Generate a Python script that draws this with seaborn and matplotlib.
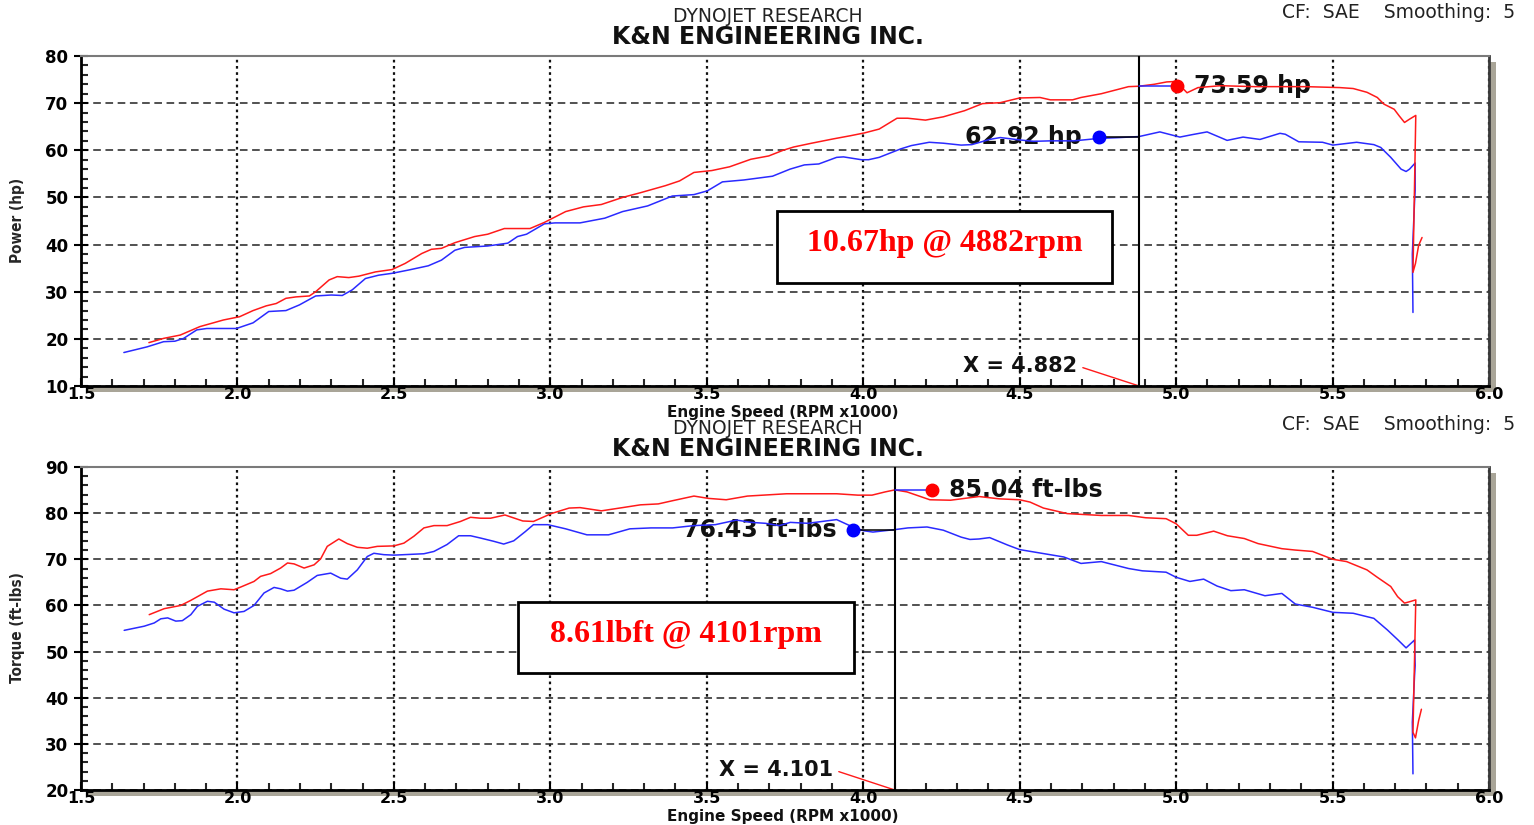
import numpy as np
import pandas as pd
import seaborn as sns
import matplotlib.pyplot as plt
from matplotlib.patches import Rectangle
from matplotlib.ticker import MultipleLocator

# ---- data (rpm x1000) ----
pw_rpm_stock = [1.637, 1.711, 1.764, 1.800, 1.828, 1.870, 1.902, 1.997, 2.050, 2.100, 2.155, 2.198,
                2.250, 2.300, 2.335, 2.367, 2.409, 2.451, 2.494, 2.547, 2.610, 2.652, 2.695, 2.726,
                2.800, 2.864, 2.895, 2.924, 2.981, 3.015, 3.095, 3.174, 3.231, 3.311, 3.390, 3.459,
                3.502, 3.550, 3.618, 3.710, 3.766, 3.812, 3.858, 3.915, 3.937, 3.994, 4.017, 4.051,
                4.120, 4.154, 4.211, 4.256, 4.313, 4.347, 4.404, 4.438, 4.500, 4.544, 4.598, 4.674,
                4.750, 4.820, 4.882, 4.948, 5.012, 5.050, 5.099, 5.163, 5.214, 5.268, 5.332, 5.349,
                5.392, 5.468, 5.501, 5.577, 5.632, 5.654, 5.686, 5.719, 5.735, 5.746, 5.764, 5.764,
                5.762, 5.755, 5.757]
pw_stock = [17.1, 18.3, 19.4, 19.5, 20.1, 21.9, 22.2, 22.2, 23.4, 25.8, 26.0, 27.2,
            29.1, 29.3, 29.2, 30.4, 32.8, 33.5, 33.9, 34.6, 35.5, 36.7, 38.8, 39.4,
            39.7, 40.3, 41.7, 42.2, 44.4, 44.6, 44.6, 45.6, 47.0, 48.2, 50.3, 50.6,
            51.4, 53.3, 53.7, 54.5, 56.0, 56.9, 57.1, 58.5, 58.6, 58.0, 58.0, 58.5,
            60.3, 61.0, 61.7, 61.5, 61.1, 61.2, 62.3, 62.7, 62.2, 61.9, 62.0, 62.0,
            62.5, 62.7, 62.92, 63.9, 62.8, 63.3, 63.9, 62.1, 62.8, 62.3, 63.6, 63.4,
            61.8, 61.7, 61.1, 61.7, 61.2, 60.6, 58.5, 56.0, 55.5, 56.0, 57.3, 51.5,
            49.0, 38.0, 25.6]

pw_rpm_kn = [1.717, 1.764, 1.817, 1.880, 1.923, 1.955, 2.007, 2.050, 2.092, 2.124, 2.155, 2.187,
             2.230, 2.250, 2.293, 2.319, 2.356, 2.388, 2.441, 2.494, 2.536, 2.589, 2.620, 2.652,
             2.695, 2.758, 2.800, 2.853, 2.935, 2.981, 3.049, 3.106, 3.163, 3.231, 3.288, 3.368,
             3.413, 3.459, 3.516, 3.573, 3.641, 3.698, 3.744, 3.778, 3.835, 3.903, 3.960, 4.005,
             4.051, 4.108, 4.142, 4.199, 4.256, 4.324, 4.381, 4.438, 4.500, 4.565, 4.598, 4.669,
             4.696, 4.761, 4.848, 4.882, 4.930, 4.970, 5.000, 5.035, 5.070, 5.142, 5.251, 5.414,
             5.523, 5.566, 5.610, 5.643, 5.664, 5.697, 5.713, 5.730, 5.746, 5.766, 5.757, 5.765,
             5.775, 5.786]
pw_kn = [19.2, 20.1, 20.8, 22.6, 23.4, 24.0, 24.7, 26.0, 27.0, 27.5, 28.6, 28.9,
         29.1, 30.0, 32.5, 33.2, 33.0, 33.3, 34.2, 34.7, 36.0, 38.1, 39.0, 39.2,
         40.4, 41.7, 42.2, 43.4, 43.4, 44.7, 47.0, 48.0, 48.5, 50.0, 51.0, 52.5,
         53.5, 55.3, 55.7, 56.5, 58.1, 58.8, 60.0, 60.7, 61.5, 62.4, 63.1, 63.7,
         64.5, 66.8, 66.8, 66.4, 67.1, 68.4, 69.9, 70.1, 71.1, 71.2, 70.7, 70.7,
         71.2, 72.0, 73.5, 73.59, 74.0, 74.5, 74.6, 72.2, 73.3, 73.7, 73.5, 73.5,
         73.3, 73.1, 72.3, 71.2, 69.8, 68.7, 67.3, 65.9, 66.6, 67.4, 34.1, 36.0,
         39.8, 41.5]

tq_rpm_stock = [1.638, 1.702, 1.734, 1.755, 1.777, 1.803, 1.824, 1.851, 1.872, 1.904, 1.926, 1.957,
                1.989, 2.021, 2.053, 2.085, 2.117, 2.138, 2.160, 2.181, 2.223, 2.255, 2.298, 2.330,
                2.351, 2.383, 2.415, 2.436, 2.468, 2.500, 2.596, 2.628, 2.670, 2.707, 2.745, 2.777,
                2.819, 2.851, 2.883, 2.920, 2.946, 2.992, 3.049, 3.117, 3.186, 3.254, 3.322, 3.391,
                3.459, 3.527, 3.595, 3.641, 3.687, 3.732, 3.767, 3.823, 3.869, 3.915, 3.960, 4.000,
                4.031, 4.070, 4.101, 4.143, 4.204, 4.256, 4.313, 4.341, 4.370, 4.404, 4.461, 4.500,
                4.544, 4.641, 4.696, 4.761, 4.848, 4.892, 4.968, 5.000, 5.044, 5.088, 5.131, 5.175,
                5.218, 5.284, 5.338, 5.381, 5.436, 5.501, 5.566, 5.632, 5.675, 5.708, 5.735, 5.762,
                5.764, 5.762, 5.755, 5.757]
tq_stock = [54.6, 55.5, 56.2, 57.1, 57.3, 56.6, 56.7, 58.0, 59.8, 60.9, 60.7, 59.2,
            58.4, 58.7, 60.0, 62.7, 63.9, 63.6, 63.1, 63.3, 65.0, 66.5, 67.0, 65.9,
            65.7, 67.7, 70.6, 71.3, 71.0, 70.9, 71.2, 71.7, 73.2, 75.1, 75.1, 74.6,
            73.9, 73.3, 74.0, 76.0, 77.5, 77.5, 76.6, 75.3, 75.3, 76.6, 76.8, 76.8,
            77.3, 77.5, 78.5, 78.0, 77.8, 77.3, 78.0, 77.8, 78.2, 78.6, 77.2, 76.2,
            75.9, 76.2, 76.43, 76.8, 77.0, 76.3, 74.8, 74.3, 74.4, 74.7, 73.1, 72.1,
            71.6, 70.5, 69.1, 69.5, 68.0, 67.5, 67.2, 66.1, 65.2, 65.7, 64.2, 63.2,
            63.4, 62.1, 62.6, 60.3, 59.6, 58.5, 58.3, 57.2, 54.7, 52.6, 50.8, 52.5,
            47.0, 44.7, 34.7, 23.5]

tq_rpm_kn = [1.718, 1.766, 1.819, 1.851, 1.904, 1.947, 1.989, 2.011, 2.053, 2.074, 2.106, 2.138,
             2.160, 2.181, 2.213, 2.245, 2.266, 2.287, 2.324, 2.351, 2.383, 2.415, 2.447, 2.500,
             2.532, 2.564, 2.596, 2.628, 2.670, 2.713, 2.745, 2.777, 2.809, 2.855, 2.912, 2.946,
             3.003, 3.060, 3.095, 3.163, 3.231, 3.288, 3.345, 3.391, 3.459, 3.505, 3.562, 3.630,
             3.755, 3.915, 3.983, 4.028, 4.070, 4.101, 4.140, 4.213, 4.279, 4.370, 4.435, 4.500,
             4.533, 4.576, 4.652, 4.761, 4.848, 4.903, 4.968, 5.000, 5.039, 5.066, 5.120, 5.164,
             5.218, 5.262, 5.338, 5.381, 5.436, 5.501, 5.545, 5.610, 5.643, 5.686, 5.708, 5.730,
             5.746, 5.766, 5.757, 5.765, 5.775, 5.784]
tq_kn = [58.0, 59.3, 60.0, 61.1, 63.1, 63.6, 63.4, 64.0, 65.2, 66.3, 66.9, 68.1,
         69.2, 69.0, 68.1, 68.8, 70.1, 72.8, 74.4, 73.4, 72.6, 72.4, 72.8, 72.9,
         73.5, 75.0, 76.8, 77.3, 77.3, 78.2, 79.1, 78.9, 78.9, 79.6, 78.3, 78.2,
         79.9, 81.1, 81.2, 80.5, 81.2, 81.8, 82.0, 82.7, 83.7, 83.2, 82.9, 83.7,
         84.2, 84.2, 83.9, 83.9, 84.6, 85.04, 84.6, 82.9, 82.8, 83.6, 83.1, 82.9,
         82.4, 81.1, 79.9, 79.5, 79.5, 79.0, 78.8, 77.7, 75.2, 75.2, 76.1, 75.1,
         74.5, 73.4, 72.3, 72.0, 71.7, 70.0, 69.5, 67.7, 66.1, 64.1, 61.9, 60.5,
         60.8, 61.2, 32.5, 31.3, 35.0, 37.5]

# cursor readouts
pw_cursor = 4.882
pw_kn_read, pw_stock_read = 73.59, 62.92
tq_cursor = 4.101
tq_kn_read, tq_stock_read = 85.04, 76.43
# where the readout dots sit
pw_kn_dot, pw_stock_dot = 5.003, 4.753
tq_kn_dot, tq_stock_dot = 4.220, 3.967

RED = "#ff1a1a"
BLUE = "#2a2aff"

sns.set_theme(style="white")
plt.rcParams["font.family"] = ["DejaVu Sans"]

fig = plt.figure(figsize=(15.34, 8.25), dpi=100)
fig.patch.set_facecolor("white")

W, H = 1534, 825
def fx(px):
    return px / W
def fy(py):
    return 1 - py / H

ax_top = fig.add_axes([fx(81), fy(386), fx(1489) - fx(81), fy(56) - fy(386)])
ax_bot = fig.add_axes([fx(81), fy(790), fx(1489) - fx(81), fy(467) - fy(790)])


def curves(ax, rpm_s, val_s, rpm_k, val_k):
    stock = pd.DataFrame({"rpm": rpm_s, "val": val_s})
    kn = pd.DataFrame({"rpm": rpm_k, "val": val_k})
    sns.lineplot(data=stock, x="rpm", y="val", ax=ax, color=BLUE, lw=1.1,
                 sort=False, estimator=None, zorder=3)
    sns.lineplot(data=kn, x="rpm", y="val", ax=ax, color=RED, lw=1.1,
                 sort=False, estimator=None, zorder=4)


def frame(ax, ylo, yhi, ylabel, ytitle):
    # grey drop shadow behind the plot box
    pos = ax.get_position()
    fig.add_artist(Rectangle((pos.x0 + 7 / W, pos.y0 - 6 / H), pos.width, pos.height,
                             transform=fig.transFigure, facecolor="#a9a598",
                             edgecolor="none", zorder=-1))
    ax.set_facecolor("white")
    ax.set_xlim(1.5, 6.0)
    ax.set_ylim(ylo, yhi)
    ax.xaxis.set_major_locator(MultipleLocator(0.5))
    ax.xaxis.set_minor_locator(MultipleLocator(0.1))
    ax.yaxis.set_major_locator(MultipleLocator(10))
    ax.yaxis.set_minor_locator(MultipleLocator(2))
    ax.set_xticks(ax.get_xticks())
    ax.set_xticklabels([f"{v:.1f}" for v in ax.get_xticks()])
    ax.set_xlim(1.5, 6.0)
    ax.tick_params(axis="x", which="major", direction="in", length=6, width=1.5,
                   pad=1, labelsize=11.5, colors="black")
    ax.tick_params(axis="x", which="minor", direction="in", length=5, width=1.5)
    ax.tick_params(axis="y", which="major", direction="inout", length=10, width=1.5,
                   pad=4, labelsize=12, colors="black")
    ax.tick_params(axis="y", which="minor", direction="in", length=5, width=1.5)
    ax.tick_params(bottom=True, left=True, which="both")
    for lab in ax.get_xticklabels() + ax.get_yticklabels():
        lab.set_fontweight("bold")
    ax.grid(axis="y", which="major", ls=(0, (5, 3)), color="#222222", lw=1.1)
    ax.grid(axis="x", which="major", ls=(0, (1.2, 1.6)), color="#111111", lw=1.6)
    ax.set_axisbelow(True)
    ax.spines["left"].set_color("black")
    ax.spines["left"].set_linewidth(2)
    ax.spines["bottom"].set_color("black")
    ax.spines["bottom"].set_linewidth(2)
    ax.spines["top"].set_color("#7a7a7a")
    ax.spines["top"].set_linewidth(1.5)
    ax.spines["right"].set_color("#3a3a3a")
    ax.spines["right"].set_linewidth(2)
    ax.set_xlabel("")
    ax.set_ylabel("")
    fig.text(fx(18), ytitle, ylabel, rotation=90, ha="center", va="center",
             fontsize=11, fontweight="bold", fontstretch="condensed")


def readout(ax, cursor, kn_val, st_val, kn_dot, st_dot, unit, ylo, xtxt, ytxt):
    ax.axvline(cursor, color="black", lw=1.5, zorder=5)
    # red curve readout, connector to the right of the cursor
    ax.plot([cursor, kn_dot], [kn_val, kn_val], color=BLUE, lw=1.1, zorder=5)
    ax.plot([kn_dot], [kn_val], "o", ms=9, color="red", mec="red", zorder=6)
    ax.annotate(f"{kn_val:.2f} {unit}", xy=(kn_dot, kn_val), xytext=(12, 0),
                textcoords="offset points", ha="left", va="center",
                fontsize=17, fontweight="bold", color="#111111", zorder=1.5)
    # blue curve readout, connector to the left of the cursor
    ax.plot([st_dot, cursor], [st_val, st_val], color="black", lw=1.1, zorder=5)
    ax.plot([st_dot], [st_val], "o", ms=9, color="blue", mec="blue", zorder=6)
    ax.annotate(f"{st_val:.2f} {unit}", xy=(st_dot, st_val), xytext=(-12, 0),
                textcoords="offset points", ha="right", va="center",
                fontsize=17, fontweight="bold", color="#111111", zorder=1.5)
    # cursor position label with thin red leader
    ax.annotate(f"X = {cursor:.3f}", xy=(cursor, ylo), xytext=(xtxt, ytxt),
                textcoords="data", ha="right", va="center", fontsize=15,
                fontweight="bold", color="#111111", zorder=1.5,
                arrowprops=dict(arrowstyle="-", color=RED, lw=1,
                                relpos=(1.0, 0.5), shrinkA=2, shrinkB=0))


curves(ax_top, pw_rpm_stock, pw_stock, pw_rpm_kn, pw_kn)
curves(ax_bot, tq_rpm_stock, tq_stock, tq_rpm_kn, tq_kn)
frame(ax_top, 10, 80, "Power (hp)", fy(220))
frame(ax_bot, 20, 90, "Torque (ft-lbs)", fy(628))
readout(ax_top, pw_cursor, pw_kn_read, pw_stock_read, pw_kn_dot, pw_stock_dot,
        "hp", 10, 4.683, 14.3)
readout(ax_bot, tq_cursor, tq_kn_read, tq_stock_read, tq_kn_dot, tq_stock_dot,
        "ft-lbs", 20, 3.903, 24.4)

# headers
for top in (0, 412):
    fig.text(fx(768), fy(16 + top), "DYNOJET RESEARCH", ha="center", va="center",
             fontsize=13.5, color="#222222")
    fig.text(fx(768), fy(37 + top), "K&N ENGINEERING INC.", ha="center", va="center",
             fontsize=17, fontweight="bold", color="#111111")
    fig.text(fx(1515), fy(12 + top), "CF:  SAE    Smoothing:  5", ha="right", va="center",
             fontsize=13.5, color="#222222")

fig.text(fx(783), fy(405), "Engine Speed (RPM x1000)", ha="center", va="top",
         fontsize=11, fontweight="bold", color="#111111")
fig.text(fx(783), fy(809), "Engine Speed (RPM x1000)", ha="center", va="top",
         fontsize=11, fontweight="bold", color="#111111")

# difference boxes
for (x0, y0, x1, y1, label) in [(777, 211, 1112, 283, "10.67hp @ 4882rpm"),
                                 (518, 602, 854, 673, "8.61lbft @ 4101rpm")]:
    fig.add_artist(Rectangle((fx(x0), fy(y1)), fx(x1) - fx(x0), fy(y0) - fy(y1),
                             transform=fig.transFigure, facecolor="white",
                             edgecolor="black", lw=2, zorder=10))
    fig.text(fx((x0 + x1) / 2), fy((y0 + y1) / 2 - 3), label, ha="center", va="center",
             fontsize=23, fontweight="bold", color="red",
             family=["Liberation Serif", "DejaVu Serif"], zorder=11)

plt.savefig("out.png", dpi=100)
